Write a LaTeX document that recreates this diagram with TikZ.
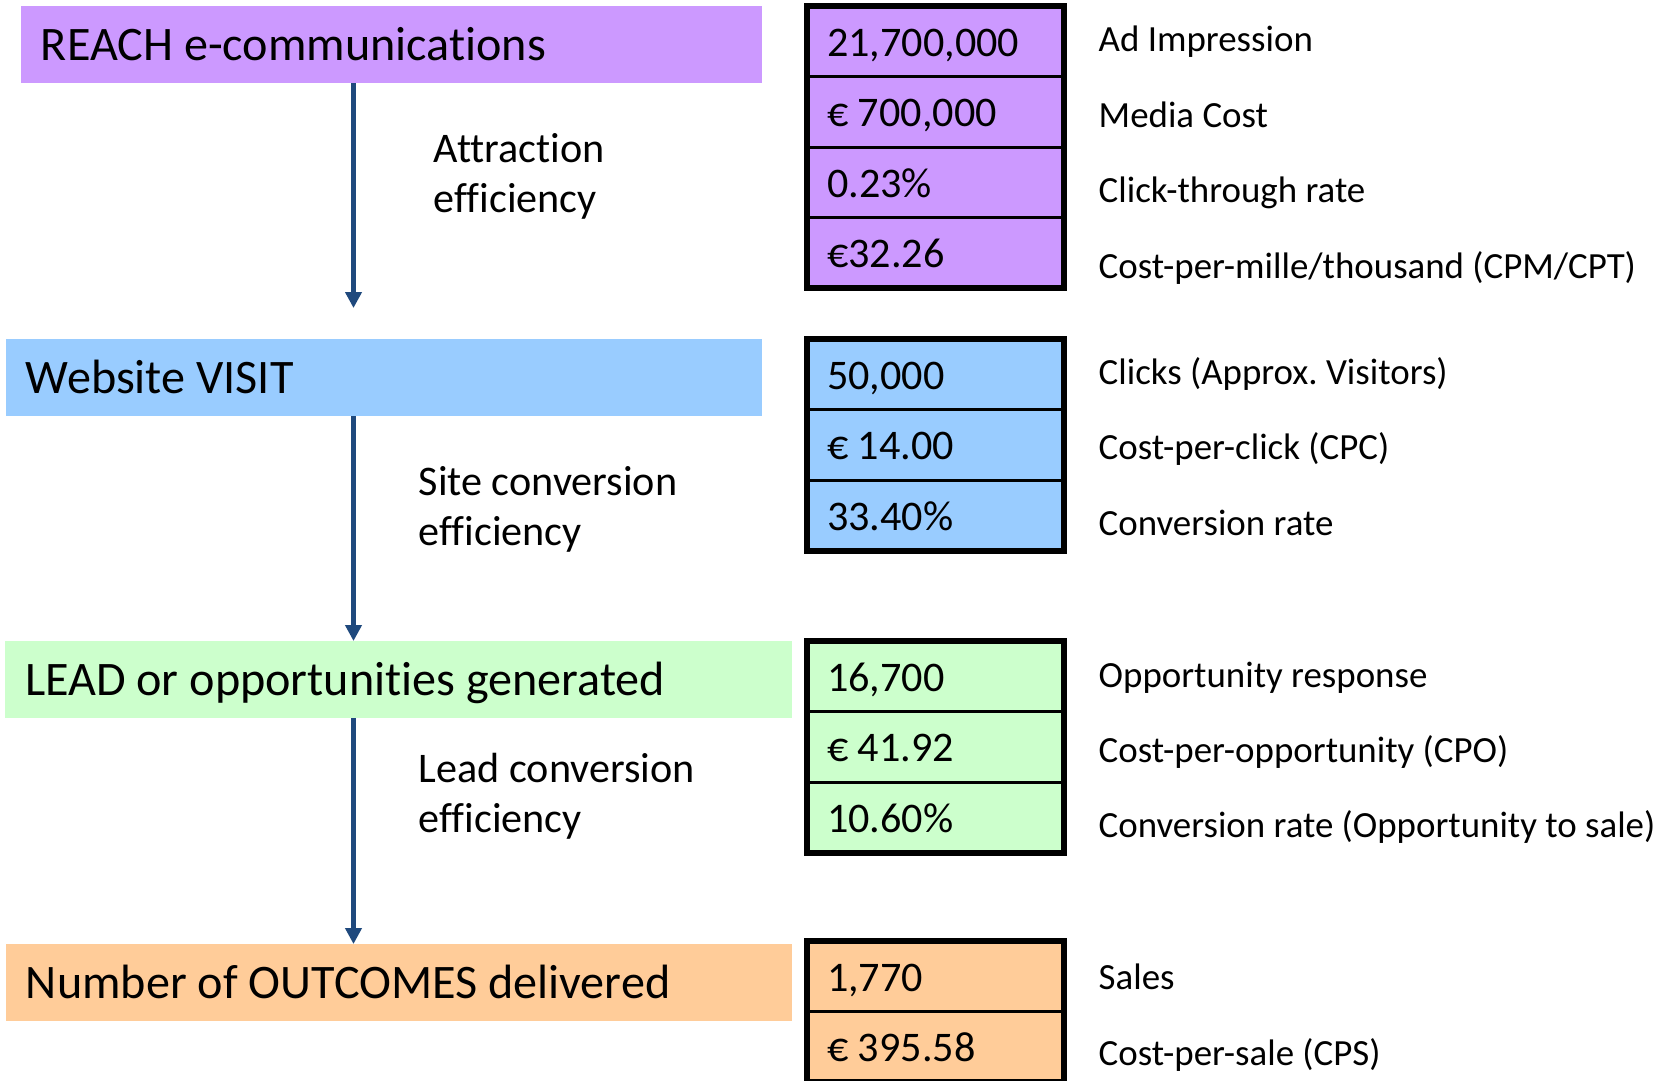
\documentclass[tikz,border=0pt]{standalone}
\usepackage{fontspec}
\setmainfont{Carlito}[Ligatures=NoCommon]
\frenchspacing
\usetikzlibrary{arrows.meta,positioning}

\definecolor{reachcol}{HTML}{CC99FF}
\definecolor{visitcol}{HTML}{99CCFF}
\definecolor{leadcol}{HTML}{CCFFCC}
\definecolor{salecol}{HTML}{FFCC99}
\definecolor{arrowcol}{HTML}{1F497D}

\begin{document}
\begin{tikzpicture}[x=0.1mm,y=-0.1mm,
	bar/.style={anchor=north west,outer sep=0pt,inner xsep=2mm,inner ysep=0pt,minimum height=7.7mm,
		align=flush left,text height=3.1mm,text depth=0pt,font=\fontsize{13.7}{16}\selectfont},
	cell/.style={draw,line width=0.3mm,outer sep=0pt,inner xsep=2mm,inner ysep=0pt,text width=21.7mm,
		minimum height=7.05mm,align=flush left,text height=2.95mm,text depth=0pt,font=\fontsize{12}{14}\selectfont},
	frame/.style={line width=0.6mm},
	lbl/.style={anchor=west,inner sep=0pt,text height=2.4mm,text depth=0pt,font=\fontsize{10.5}{12}\selectfont},
	eff/.style={anchor=base west,inner sep=0pt,align=flush left,font=\fontsize{12}{14.2}\selectfont},
	to/.style={-{Triangle[width=1.6mm,length=1.6mm]},line width=0.5mm,draw=arrowcol}]
\useasboundingbox (0,0) rectangle (1674,1080);

% stages
\node[bar,fill=reachcol,text width=70.1mm] (reach) at (21,6) {REACH e-communications};
\node[bar,fill=visitcol,text width=71.6mm] (visit) at (6,339) {Website VISIT};
\node[bar,fill=leadcol,text width=74.7mm] (lead) at (5,641) {LEAD or opportunities generated};
\node[bar,fill=salecol,text width=74.6mm] (sale) at (6,944) {Number of OUTCOMES delivered};

% efficiencies (base = last line)
\node[eff] (attr) at (433,212) {Attraction\\efficiency};
\node[eff] (site) at (418,545) {Site conversion\\efficiency};
\node[eff] (conv) at (418,832) {Lead conversion\\efficiency};

\coordinate (tip) at (353.5,308);
\draw[to] (reach.south -| tip) -- (tip);
\draw[to] (visit.south -| tip) -- (lead.north -| tip);
\draw[to] (lead.south -| tip) -- (sale.north -| tip);

% reach table
\node[cell,fill=reachcol,anchor=north west] (r1) at (807,6) {21,700,000};
\node[cell,fill=reachcol,below=0pt of r1] (r2) {€ 700,000};
\node[cell,fill=reachcol,below=0pt of r2] (r3) {0.23\%};
\node[cell,fill=reachcol,below=0pt of r3] (r4) {€32.26};
\draw[frame] (r1.north west) rectangle (r4.south east);

% visit table
\node[cell,fill=visitcol,anchor=north west] (v1) at (807,339) {50,000};
\node[cell,fill=visitcol,below=0pt of v1] (v2) {€ 14.00};
\node[cell,fill=visitcol,below=0pt of v2] (v3) {33.40\%};
\draw[frame] (v1.north west) rectangle (v3.south east);

% lead table
\node[cell,fill=leadcol,anchor=north west] (l1) at (807,641) {16,700};
\node[cell,fill=leadcol,below=0pt of l1] (l2) {€ 41.92};
\node[cell,fill=leadcol,below=0pt of l2] (l3) {10.60\%};
\draw[frame] (l1.north west) rectangle (l3.south east);

% sale table
\node[cell,fill=salecol,anchor=north west] (s1) at (807,941) {1,770};
\node[cell,fill=salecol,below=0pt of s1] (s2) {€ 395.58};
\draw[frame] (s1.north west) rectangle (s2.south east);

% metric names
\node[lbl] (rn1) at (1098,39) {Ad Impression};
\node[lbl] (rn2) at (1098,115) {Media Cost};
\node[lbl] (rn3) at (1098,190) {Click-through rate};
\node[lbl] (rn4) at (1098,266) {Cost-per-mille/thousand (CPM/CPT)};

\node[lbl] (vn1) at (1098,372) {Clicks (Approx. Visitors)};
\node[lbl] (vn2) at (1098,447) {Cost-per-click (CPC)};
\node[lbl] (vn3) at (1098,523) {Conversion rate};

\node[lbl] (ln1) at (1098,675) {Opportunity response};
\node[lbl] (ln2) at (1098,750) {Cost-per-opportunity (CPO)};
\node[lbl] (ln3) at (1098,825) {Conversion rate (Opportunity to sale)};

\node[lbl] (sn1) at (1098,977) {Sales};
\node[lbl] (sn2) at (1098,1053) {Cost-per-sale (CPS)};

\end{tikzpicture}
\end{document}
